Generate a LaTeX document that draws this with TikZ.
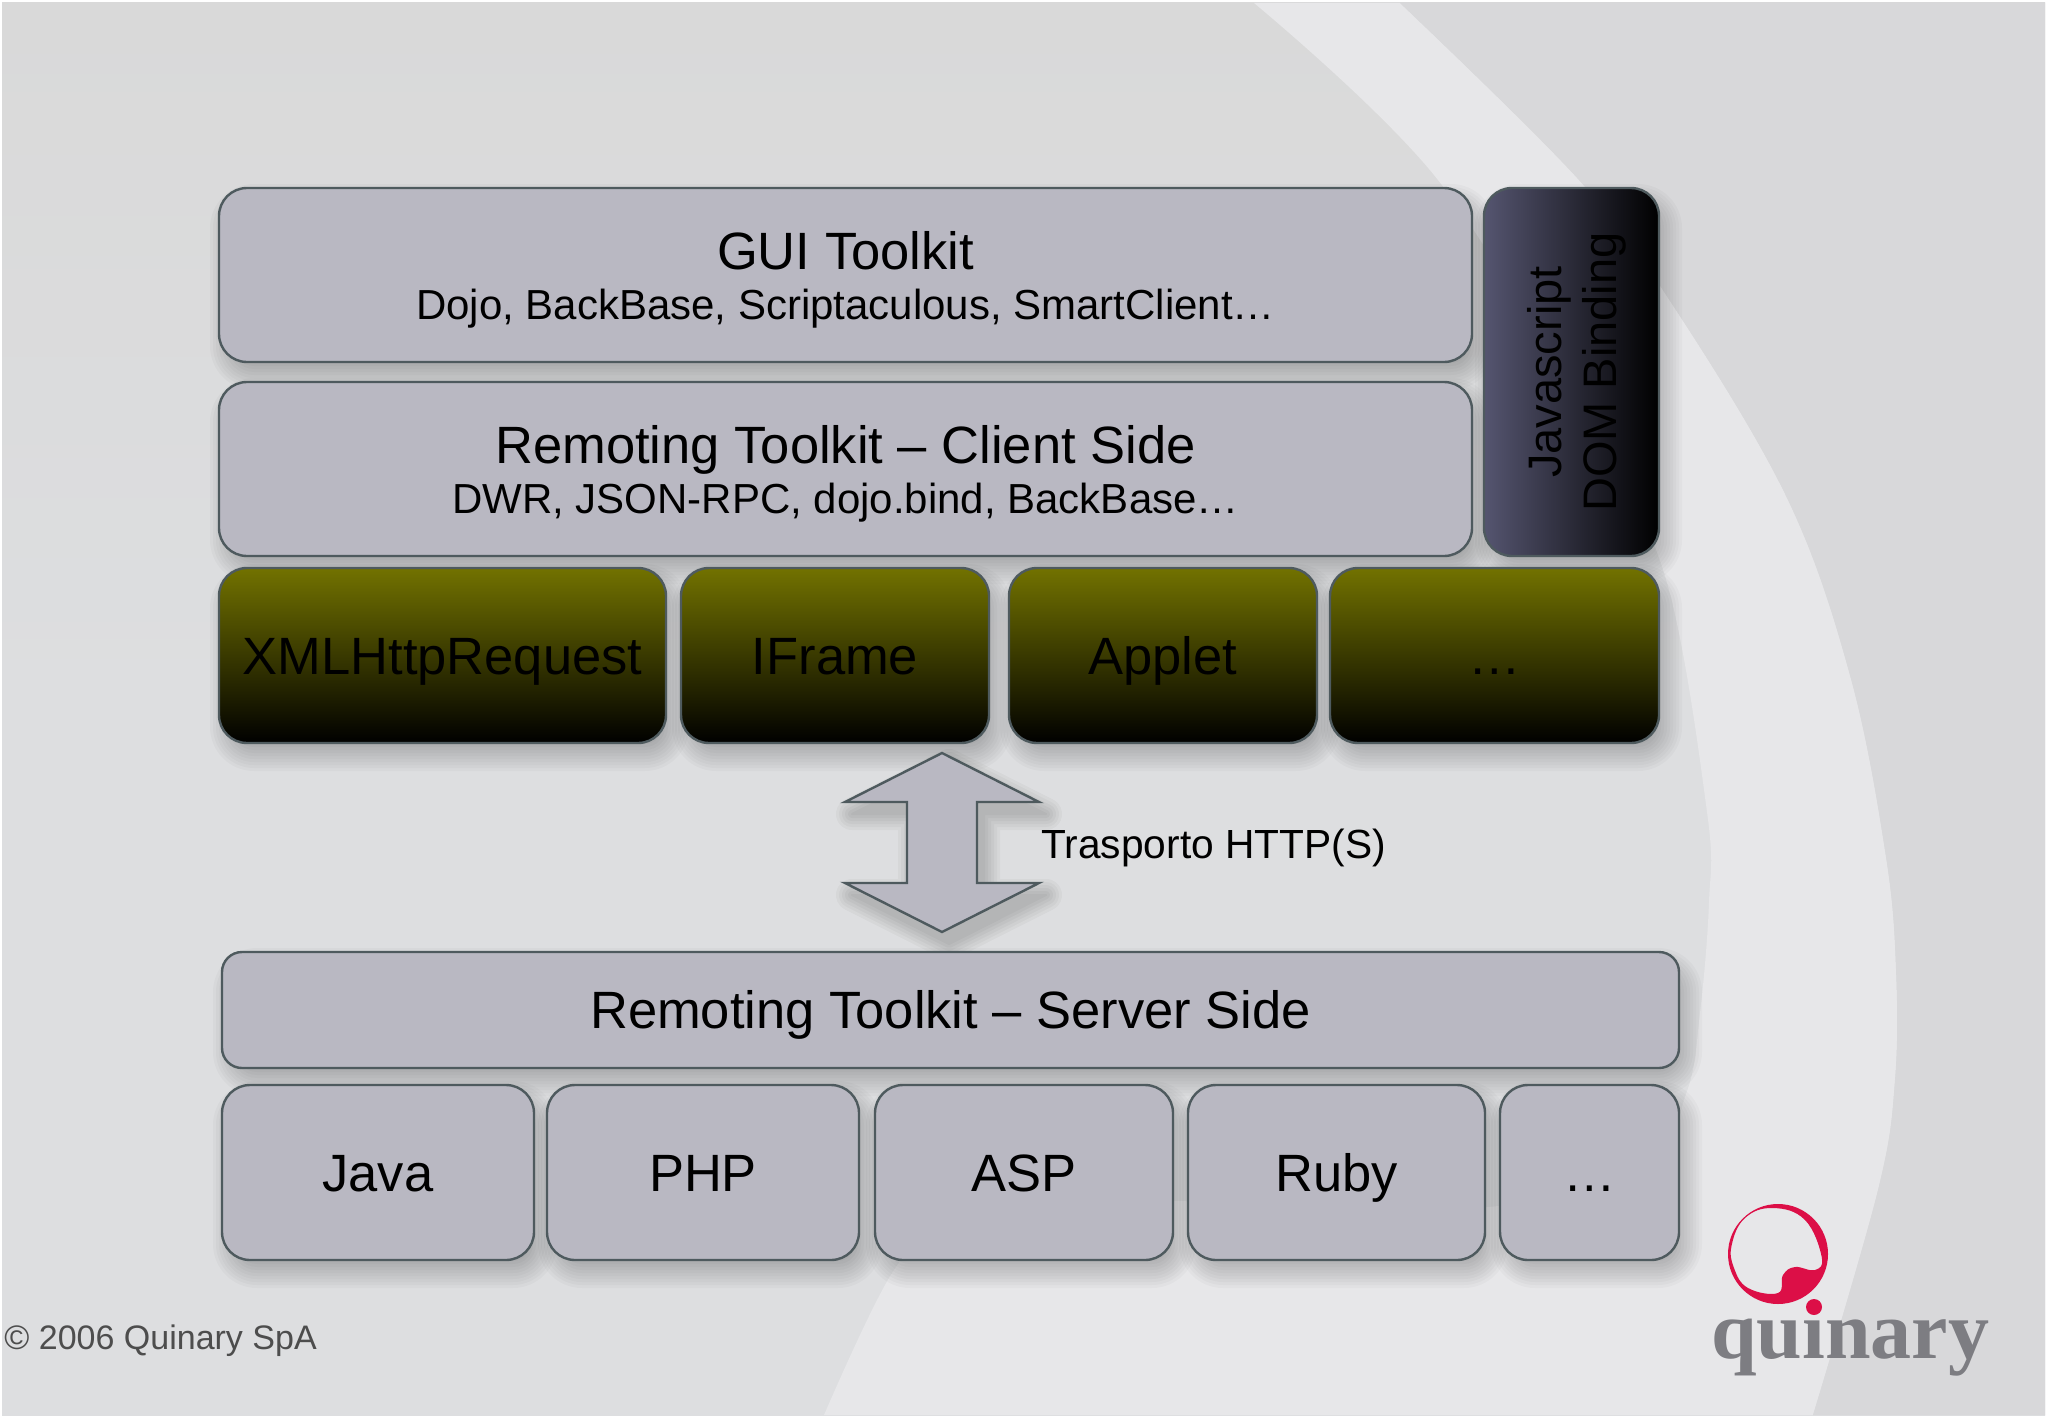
\documentclass[tikz,border=0pt]{standalone}
\usepackage{fontspec}
\setmainfont{Liberation Sans}
\newfontfamily\logofont{Liberation Serif}
\definecolor{bgright}{HTML}{D8D8DA}
\definecolor{bgband}{HTML}{E7E7E9}
\definecolor{bgtop}{HTML}{D9D9D9}
\definecolor{bgmid}{HTML}{DDDEE0}
\definecolor{boxfill}{HTML}{B9B8C2}
\definecolor{boxline}{HTML}{4E5A5E}
\definecolor{oliveT}{HTML}{727200}
\definecolor{jsL}{HTML}{555570}
\definecolor{logored}{HTML}{DC0F47}
\definecolor{logogrey}{HTML}{7D7D82}
\definecolor{copygrey}{HTML}{4D4D4D}
\pgfdeclarelayer{under}
\pgfsetlayers{under,main}
\newcommand\fs[2]{\fontsize{#1}{#2}\selectfont}
% one line of text, baseline at a fixed distance below the box centre
\newcommand\one[1]{\smash{\raisebox{-9.25pt}{\fs{26.25}{27}#1}}}
% title and subtitle, baselines at fixed distances from the box centre
\newcommand\two[2]{\smash{\makebox[0pt]{\raisebox{2.6pt}{\fs{26.25}{27}#1}}\makebox[0pt]{\raisebox{-22.3pt}{\fs{21}{24}#2}}}}
\newcommand\bx[7][]{%
  \begin{pgfonlayer}{under}
  \foreach \k in {0,...,12}{%
    \pgfmathsetmacro\e{16-3*\k}%
    \pgfmathsetmacro\rr{max(1,14+\e*0.5)}%
    \fill[softlayer, rounded corners=\rr pt] ({#3+7-\e},{#4+12-\e}) rectangle ({#5+7+\e},{#6+12+\e});
  }
  \end{pgfonlayer}
  \node[#1, minimum width={(#5-#3)*0.5pt}, minimum height={(#6-#4)*0.5pt}] (#2) at ({(#3+#5)/2},{(#4+#6)/2}) {#7};}
\newcommand\arrowshape{(942,753) -- (1039,802) -- (977,802) -- (977,883) -- (1039,883) -- (942,932) -- (845,883) -- (907,883) -- (907,802) -- (845,802) -- cycle}
\tikzset{
  softlayer/.style={black, opacity=.022},
  base/.style={draw=boxline, line width=1.2pt, rounded corners=14pt, inner sep=0pt, align=center, text=black},
  grey/.style={base, fill=boxfill},
  serverbox/.style={base, fill=boxfill, rounded corners=10pt},
  olivebox/.style={base, top color=oliveT, bottom color=black, middle color=oliveT!50!black},
  jsbox/.style={base, left color=jsL, right color=black}
}
\begin{document}
\begin{tikzpicture}[x=0.5pt,y=-0.5pt]
\useasboundingbox (0,0) rectangle (2048,1418);
% background
\begin{pgfonlayer}{under}
\fill[white] (0,0) rectangle (2048,1418);
\fill[top color=bgtop,bottom color=bgmid,middle color=bgmid] (2,3) rectangle (2045,1415);
\fill[bgband] plot[smooth,tension=.6] coordinates {(1400,3) (1579,180) (1674,307) (1788,500) (1851,679) (1886,857) (1896,969) (1895,1080) (1878,1190) (1813,1415)} -- plot[smooth,tension=.6] coordinates {(824,1415) (894,1270) (950,1230) (1100,1200) (1450,1210) (1640,1170) (1686,1094) (1700,1013) (1709,902) (1707,812) (1665,576) (1590,430) (1438,180) (1254,3)} -- cycle;
\fill[bgright] plot[smooth,tension=.6] coordinates {(1400,3) (1579,180) (1674,307) (1788,500) (1851,679) (1886,857) (1896,969) (1895,1080) (1878,1190) (1813,1415)} -- (2045,1415) -- (2045,3) -- cycle;
% shadow of the arrow
\foreach \w in {16,13,10,7,4,1}{%
  \begin{scope}[shift={(7,12)}, transparency group, opacity=.03]
  \draw[black, fill=black, line width=\w pt, line join=round] \arrowshape;
  \end{scope}
}
\end{pgfonlayer}
% upper stack
\bx[grey]{gui}{219}{188}{1472}{362}{\two{GUI Toolkit}{Dojo, BackBase, Scriptaculous, SmartClient…}}
\bx[grey]{client}{219}{382}{1472}{556}{\two{Remoting Toolkit – Client Side}{DWR, JSON-RPC, dojo.bind, BackBase…}}
\bx[jsbox]{js}{1484}{188}{1659}{556}{}
\node[rotate=90, align=center, font=\fs{23.5}{27.5}, text=black, inner sep=0pt] (jstext) at ([xshift=2.5pt]js.center) {Javascript\\DOM Binding};
% olive row
\bx[olivebox]{xhr}{219}{568}{666}{743}{\one{XMLHttpRequest}}
\bx[olivebox]{iframe}{681}{568}{989}{743}{\one{IFrame}}
\bx[olivebox]{applet}{1009}{568}{1317}{743}{\one{Applet}}
\bx[olivebox]{more}{1330}{568}{1659}{743}{\one{…}}
% double arrow
\draw[draw=boxline, line width=1.2pt, fill=boxfill, line join=miter] \arrowshape;
\node[anchor=west, font=\fs{20.35}{24}, inner sep=0pt] (http) at (1041,848) {Trasporto HTTP(S)};
% server
\bx[serverbox]{server}{222}{952}{1679}{1068}{\one{Remoting Toolkit – Server Side}}
\bx[grey]{java}{222}{1085}{534}{1260}{\one{Java}}
\bx[grey]{php}{547}{1085}{859}{1260}{\one{PHP}}
\bx[grey]{asp}{875}{1085}{1173}{1260}{\one{ASP}}
\bx[grey]{ruby}{1188}{1085}{1485}{1260}{\one{Ruby}}
\bx[grey]{dots}{1500}{1085}{1679}{1260}{\one{…}}
% copyright
\node[anchor=west, font=\fs{17}{20}, text=copygrey, inner sep=0pt] (copy) at (4,1341) {© 2006 Quinary SpA};
% logo
\node[anchor=base, font=\logofont\bfseries\fs{41}{41}, text=logogrey, inner sep=0pt] (quinary) at (1850,1358) {quinary};
\fill[logored, even odd rule] (1778,1254) circle[radius=50] plot[smooth cycle,tension=.7] coordinates {(1731.7,1245) (1745,1218) (1773,1208) (1805,1220) (1821.7,1257) (1815,1270) (1795,1267) (1783,1275) (1778,1293) (1748,1288) (1734,1268)};
\fill[logored] (1814,1307) circle[radius=8];
\end{tikzpicture}
\end{document}
